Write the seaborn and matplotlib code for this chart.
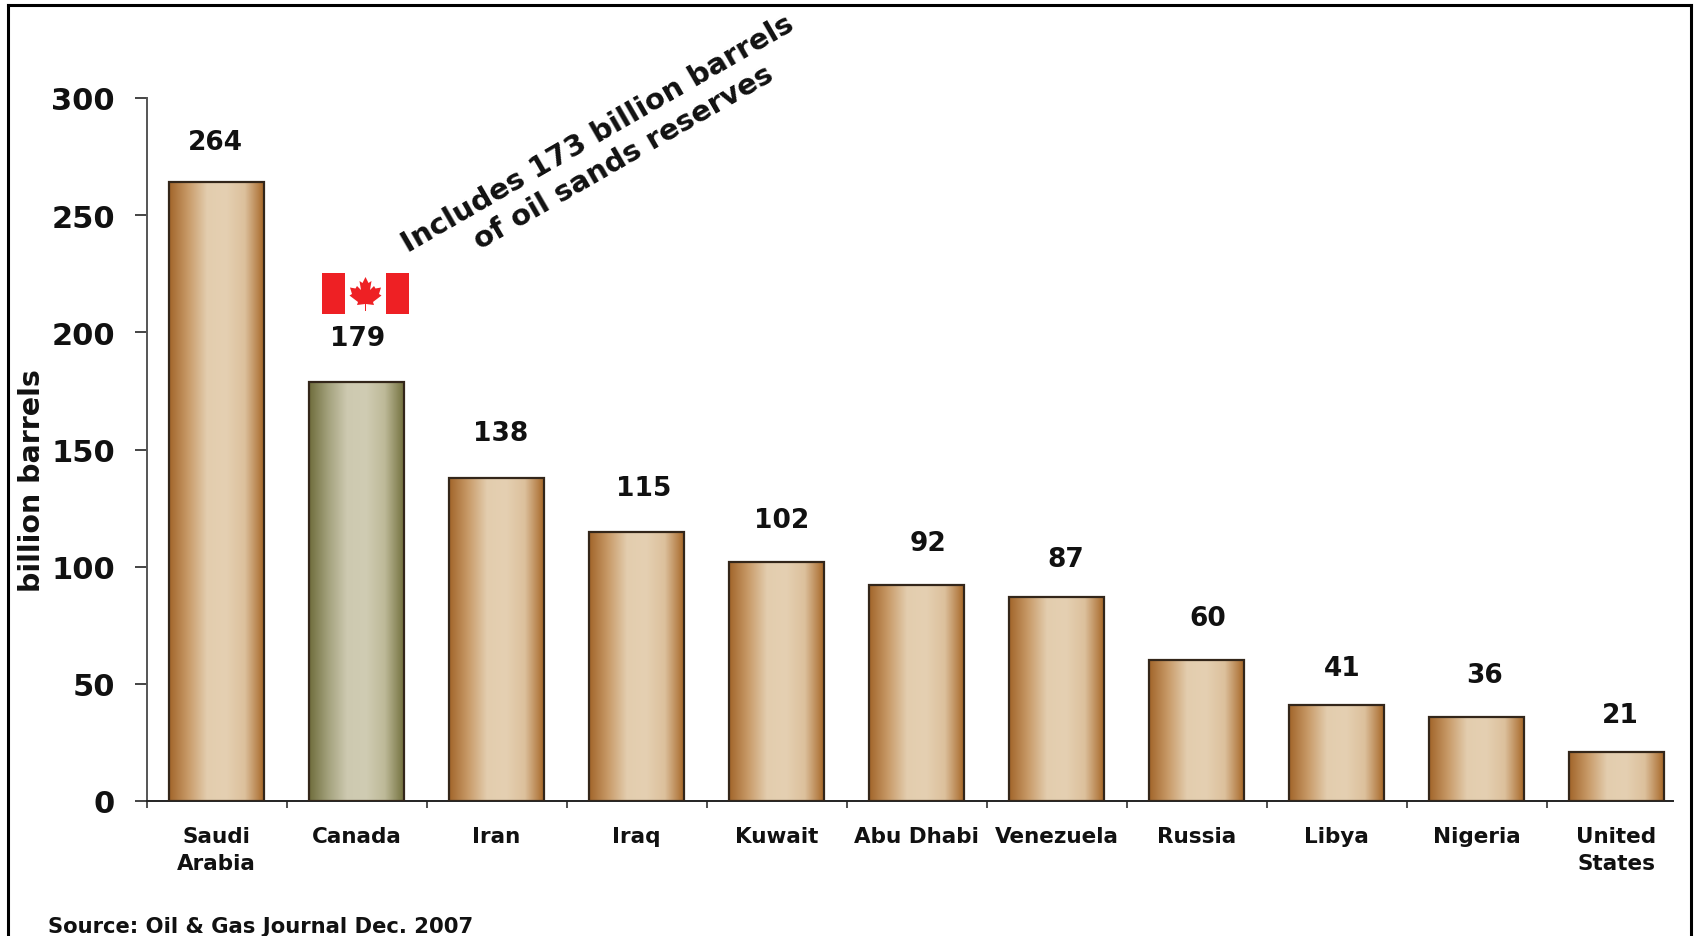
import numpy as np
import pandas as pd
import matplotlib
matplotlib.use('Agg')
import matplotlib.pyplot as plt
import seaborn as sns
from matplotlib.colors import LinearSegmentedColormap
from matplotlib.lines import Line2D
from matplotlib.patches import Polygon, Rectangle

countries = ['Saudi\nArabia', 'Canada', 'Iran', 'Iraq', 'Kuwait', 'Abu Dhabi',
             'Venezuela', 'Russia', 'Libya', 'Nigeria', 'United\nStates']
reserves = [264, 179, 138, 115, 102, 92, 87, 60, 41, 36, 21]
y_ticks = [0, 50, 100, 150, 200, 250, 300]

W, H = 1694, 937

sns.set_theme(style='ticks')
plt.rcParams['font.family'] = 'DejaVu Sans'
plt.rcParams['font.weight'] = 'bold'

df = pd.DataFrame({'country': countries, 'reserves': reserves})

fig = plt.figure(figsize=(W / 100, H / 100), dpi=100, facecolor='white')
ax = fig.add_axes([146.5 / W, (H - 802) / H, 1540 / W, 703 / H])

sns.barplot(data=df, x='country', y='reserves', color='#c89a66', width=0.675,
            edgecolor='#33261a', linewidth=1.6, ax=ax)

ax.set_xlim(-0.5, 10.5)
ax.set_ylim(0, 300)
ax.set_yticks(y_ticks)
ax.set_xlabel('')

# gradient fill, clipped to each bar
tan = LinearSegmentedColormap.from_list('tan', ['#a2652a', '#c89a68', '#e3cdae', '#e5d0b2', '#dcc09c', '#a8692a'])
olive = LinearSegmentedColormap.from_list('olive', ['#6f6d3c', '#a3a17c', '#cdc9b0', '#d0ccb3', '#bdb998', '#74723f'])
ramp = np.linspace(0, 1, 256).reshape(1, -1)
for i, bar in enumerate(ax.patches):
    bar.set_facecolor('none')
    bar.set_zorder(3)
    x0, w, h = bar.get_x(), bar.get_width(), bar.get_height()
    im = ax.imshow(ramp, cmap=olive if countries[i] == 'Canada' else tan, aspect='auto',
                   extent=(x0, x0 + w, 0, h), zorder=2)
    im.set_clip_path(bar)
ax.set_xlim(-0.5, 10.5)
ax.set_ylim(0, 300)

# value labels sit a little off centre in the original, offsets in points
label_dx = [-1, 1, 3, 5, 4, 8, 7, 8, 4, 6, 3]
label_dy = [20, 22, 22.5, 22, 21, 21, 18, 21.5, 17.5, 20.5, 17]
for bar, val, dx, dy in zip(ax.patches, reserves, label_dx, label_dy):
    ax.annotate(str(val), (bar.get_x() + bar.get_width() / 2, val), xytext=(dx, dy),
                textcoords='offset points', ha='center', va='bottom',
                fontsize=19, fontweight='bold', color='#111111')

# axes styling
sns.despine(ax=ax)
ax.spines['left'].set_color('#555555')
ax.spines['left'].set_linewidth(1.4)
ax.spines['left'].set_bounds(0, 300)
ax.spines['bottom'].set_color('#222222')
ax.spines['bottom'].set_linewidth(1.4)
ax.spines['bottom'].set_bounds(-0.5, 10.4)

ax.tick_params(axis='y', length=8.6, width=1.4, color='#444444', pad=14, labelsize=22)
ax.set_xticks(np.arange(-0.5, 10), minor=True)
ax.tick_params(axis='x', which='minor', length=5, width=1.2, color='#333333')
ax.tick_params(axis='x', which='major', length=0, pad=18, labelsize=15.5)
for lab in ax.get_xticklabels() + ax.get_yticklabels():
    lab.set_fontweight('bold')
    lab.set_color('#111111')
for lab in ax.get_xticklabels():
    lab.set_linespacing(1.45)

ax.set_ylabel('')
fig.text(32 / W, 1 - 481 / H, 'billion barrels', rotation=90, ha='center', va='center',
         fontsize=20.5, fontweight='bold', color='#111111')

# note on the oil sands
fig.text(597.5 / W, 1 - 134.5 / H, 'Includes 173 billion barrels', rotation=30,
         rotation_mode='anchor', ha='center', va='center',
         fontsize=21, fontweight='bold', color='#111111')
fig.text(624 / W, 1 - 158 / H, 'of oil sands reserves', rotation=30,
         rotation_mode='anchor', ha='center', va='center',
         fontsize=21, fontweight='bold', color='#111111')

fig.text(48 / W, 1 - 933 / H, 'Source: Oil & Gas Journal Dec. 2007', ha='left', va='baseline',
         fontsize=15.2, fontweight='bold', color='#111111')

# Canadian flag
flag = fig.add_axes([322 / W, (H - 315) / H, 87 / W, 41 / H])
flag.set_xlim(0, 87)
flag.set_ylim(0, 41)
flag.axis('off')
flag.add_patch(Rectangle((0, 0), 23, 41, color='#ee2024', lw=0))
flag.add_patch(Rectangle((64, 0), 23, 41, color='#ee2024', lw=0))
leaf = [(43.5, 37), (40.5, 31), (37.5, 33), (39, 24), (35, 28), (33.5, 25.5), (28, 26.5), (30, 20),
        (27.5, 18.5), (36, 12), (35, 9), (43, 10), (43, 3), (44, 3), (44, 10), (52, 9), (51, 12),
        (59.5, 18.5), (57, 20), (59, 26.5), (53.5, 25.5), (52, 28), (48, 24), (49.5, 33), (46.5, 31)]
flag.add_patch(Polygon(leaf, closed=True, color='#ee2024', lw=0))

# outer frame, open at the bottom
frame = [([8, 8], [0, H - 5.7]), ([8, 1690.5], [H - 5.7, H - 5.7]), ([1690.5, 1690.5], [H - 5.7, 0])]
for xs, ys in frame:
    fig.add_artist(Line2D(np.array(xs) / W, np.array(ys) / H, color='black', lw=2.2,
                          transform=fig.transFigure, solid_capstyle='projecting'))

fig.savefig('out.png', dpi=100)
